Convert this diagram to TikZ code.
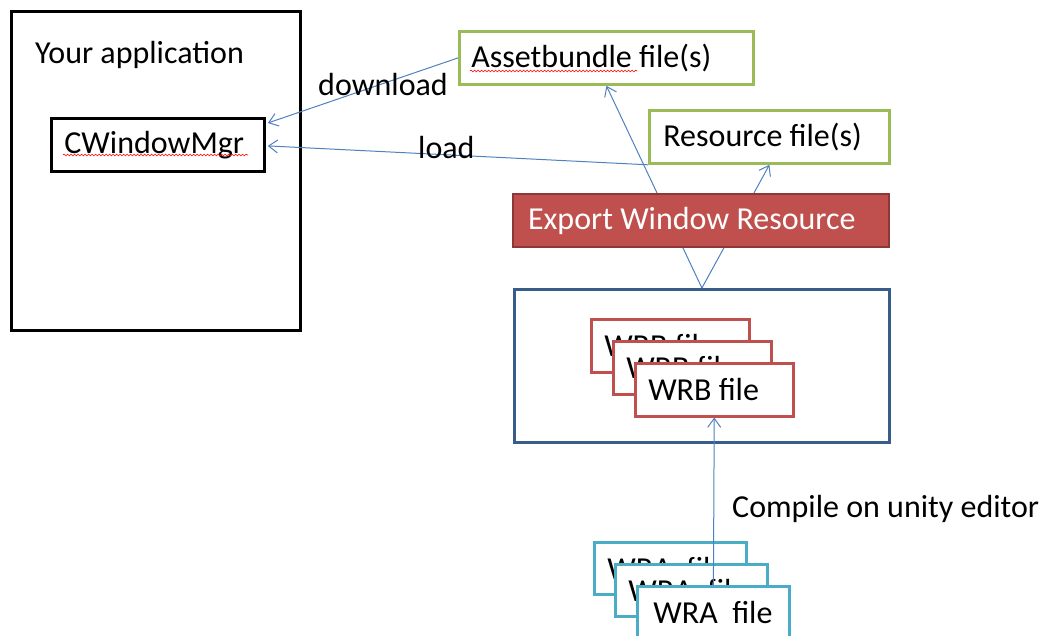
\documentclass[tikz,border=0pt]{standalone}
\usepackage{fontspec}
\setmainfont{Carlito}
\usetikzlibrary{arrows.meta,calc,decorations.pathmorphing}
\definecolor{grn}{HTML}{9BBB59}
\definecolor{rd}{HTML}{C0504D}
\definecolor{drd}{HTML}{8C3836}
\definecolor{blu}{HTML}{385D8A}
\definecolor{cya}{HTML}{4BACC6}
\definecolor{arr}{HTML}{4F81BD}
\newcommand{\lft}[2]{\makebox[#1][l]{#2}}
\begin{document}
\begin{tikzpicture}[x=1pt,y=-1pt,
  every node/.style={font=\fontsize{32}{38}\selectfont},
  box/.style={draw, fill=white, inner ysep=0pt, anchor=north west},
  blackbox/.style={box, draw=black, line width=2.8pt},
  greenbox/.style={box, draw=grn, line width=2.8pt},
  wrbbox/.style={box, draw=rd, line width=2.5pt, minimum width=158pt, minimum height=53pt, inner xsep=13pt},
  wrabox/.style={box, draw=cya, line width=2.8pt, minimum width=152pt, minimum height=52pt, inner xsep=13pt},
  lbl/.style={inner sep=0pt, anchor=base west},
  conn/.style={draw=arr, line width=1pt, -{Straight Barb[length=9pt,width=13pt,line width=1pt]}},
  spell/.style={draw=red, line width=0.6pt, decorate, decoration={snake, amplitude=0.9pt, segment length=3.5pt}}]
\useasboundingbox (0,0) rectangle (1052,635);
\clip (0,0) rectangle (1052,635);

% application
\node[blackbox, minimum width=289pt, minimum height=319pt] (app) at (10,10) {};
\node[lbl] (apptxt) at (35,63) {Your application};
\node[blackbox, minimum width=213pt, minimum height=53pt, inner xsep=13pt] (cw) at (50,117) {\lft{187pt}{CWindowMgr}};
\draw[spell] (63,155) -- (248,155);

% files
\node[greenbox, minimum width=294pt, minimum height=53pt, inner xsep=12pt] (ab) at (458,30) {\lft{270pt}{Assetbundle file(s)}};
\draw[spell] (470,71) -- (637,71);
\node[greenbox, minimum width=240pt, minimum height=53pt, inner xsep=14pt] (res) at (648,109) {\lft{212pt}{Resource file(s)}};

% container
\node[box, draw=blu, line width=2.8pt, minimum width=375pt, minimum height=153pt] (cont) at (513,288) {};

% connectors behind export box
\draw[conn] (cont.north) -- (ab.south);
\draw[conn] (cont.north) -- (res.south);
\draw[conn] (ab.west) -- ($(cw.north east)+(2,6)$);
\draw[conn] (res.south west) -- ($(cw.east)+(2,1)$);

\node[lbl] (dl) at (318,95) {download};
\node[lbl] (ld) at (418,158) {load};

% export
\node[box, draw=drd, fill=rd, line width=2pt, text=white, minimum width=376pt, minimum height=53pt, inner xsep=15pt] (exp) at (512,193) {\lft{346pt}{Export Window Resource}};

% WRB stack
\node[wrbbox] (wrb1) at (590,318) {\lft{132pt}{WRB file}};
\node[wrbbox] (wrb2) at (612,340) {\lft{132pt}{WRB file}};
\node[wrbbox] (wrb3) at (634,362) {\lft{132pt}{WRB file}};

% WRA stack
\node[wrabox] (wra1) at (593,541) {\lft{126pt}{WRA~ file}};
\node[wrabox] (wra2) at (614,563) {\lft{126pt}{WRA~ file}};
\node[wrabox, inner xsep=16pt] (wra3) at (636,585) {\lft{120pt}{WRA~ file}};
\draw[conn] (wra3.north) -- (wrb3.south);

\node[lbl] (cmp) at (732,517) {Compile on unity editor};
\end{tikzpicture}
\end{document}
